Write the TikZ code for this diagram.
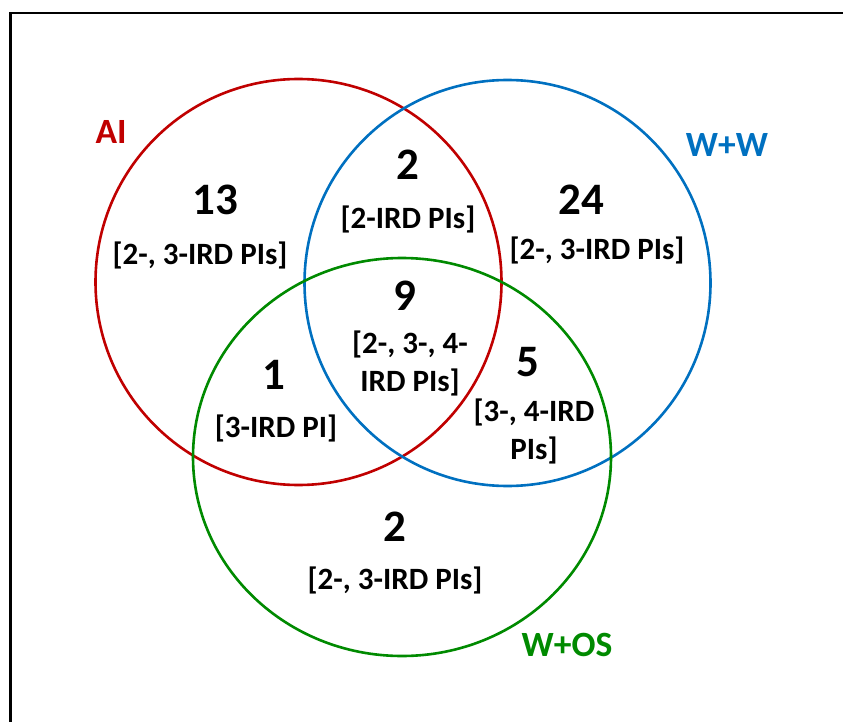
\documentclass[tikz,border=0pt]{standalone}
\usepackage{fontspec}
\setmainfont{Carlito}
\usetikzlibrary{shapes.geometric}
\definecolor{aired}{HTML}{C00000}
\definecolor{wwblue}{HTML}{0070C0}
\definecolor{wosgreen}{HTML}{008A00}
\tikzset{
  setring/.style={draw=#1, line width=2.6pt, inner sep=0pt, fill=none},
  count/.style={font=\bfseries\fontsize{45}{54}\selectfont, inner sep=0pt},
  irdlabel/.style={font=\bfseries\fontsize{31}{38}\selectfont, align=center, inner sep=0pt},
  setname/.style={font=\bfseries\fontsize{35.5}{42}\selectfont, text=#1, inner sep=0pt},
}
\begin{document}
\begin{tikzpicture}[x=1pt, y=-1pt]
  \useasboundingbox (0,0) rectangle (843,722);
  \clip (0,0) rectangle (843,722);
  % outer frame, running off the right and bottom edges
  \draw[line width=2.4pt] (10.5,13) rectangle (870,750);

  % the three sets
  \node[setring=aired, circle, minimum size=406pt] (ai) at (298.5,282) {};
  \node[setring=wwblue, circle, minimum size=406pt] (ww) at (507.5,283) {};
  \node[setring=wosgreen, ellipse, minimum width=418pt, minimum height=398pt] (wos) at (402,457) {};

  % set names
  \node[setname=aired] (nai) at (111,132) {AI};
  \node[setname=wwblue] (nww) at (727,145) {W+W};
  \node[setname=wosgreen] (nwos) at (567,645) {W+OS};

  % AI only
  \node[count] (c13) at (215,200) {13};
  \node[irdlabel] (l13) at (200,255) {[2-, 3-IRD PIs]};
  % AI and W+W
  \node[count] (c2a) at (408,165) {2};
  \node[irdlabel] (l2a) at (408,219) {[2-IRD PIs]};
  % W+W only
  \node[count] (c24) at (581,200) {24};
  \node[irdlabel] (l24) at (597,250) {[2-, 3-IRD PIs]};
  % all three
  \node[count] (c9) at (405,296) {9};
  \node[irdlabel] (l9) at (410,363) {[2-, 3-, 4-\\IRD PIs]};
  % AI and W+OS
  \node[count] (c1) at (274,375) {1};
  \node[irdlabel] (l1) at (276,428) {[3-IRD PI]};
  % W+W and W+OS
  \node[count] (c5) at (528,362) {5};
  \node[irdlabel] (l5) at (534,431) {[3-, 4-IRD\\PIs]};
  % W+OS only
  \node[count] (c2b) at (395,527) {2};
  \node[irdlabel] (l2b) at (395,580) {[2-, 3-IRD PIs]};
\end{tikzpicture}
\end{document}
